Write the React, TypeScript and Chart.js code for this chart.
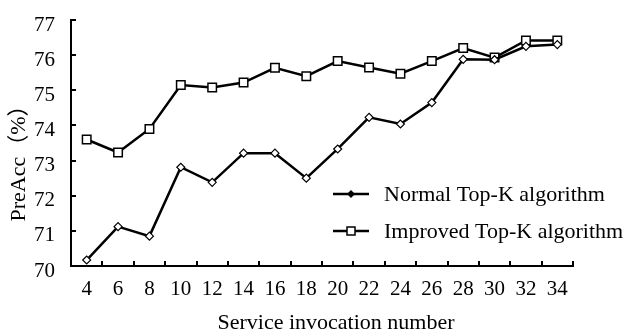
import React, { useEffect, useRef } from "react";
import { Chart, registerables } from "chart.js";

Chart.register(...registerables);

const categories = ["4", "6", "8", "10", "12", "14", "16", "18", "20", "22", "24", "26", "28", "30", "32", "34"];
const normalTopK = [70.17, 71.12, 70.85, 72.81, 72.38, 73.21, 73.21, 72.5, 73.33, 74.23, 74.04, 74.65, 75.88, 75.87, 76.25, 76.3];
const improvedTopK = [73.6, 73.23, 73.9, 75.15, 75.08, 75.22, 75.64, 75.4, 75.83, 75.65, 75.47, 75.83, 76.2, 75.93, 76.42, 76.42];
const seriesNames = ["Normal Top-K algorithm", "Improved Top-K algorithm"];
const xTitle = "Service invocation number";
const yTitle = "PreAcc（%）";
const yMin = 70;
const yMax = 77;

const FONT = '"Liberation Serif", "Times New Roman", "Noto Sans CJK SC", serif';

const inwardTicks = {
  id: "inwardTicks",
  afterDraw(chart: any) {
    const { ctx, chartArea } = chart;
    const xs = chart.scales.x;
    const ys = chart.scales.y;
    ctx.save();
    ctx.strokeStyle = "#000";
    ctx.lineWidth = 2;
    ctx.beginPath();
    for (let i = 0; i <= categories.length; i++) {
      const px = Math.round(xs.getPixelForValue(i - 0.5));
      ctx.moveTo(px, chartArea.bottom);
      ctx.lineTo(px, chartArea.bottom - 5);
    }
    for (let v = yMin; v <= yMax; v++) {
      const py = Math.round(ys.getPixelForValue(v));
      ctx.moveTo(chartArea.left, py);
      ctx.lineTo(chartArea.left + 5, py);
    }
    ctx.stroke();
    ctx.restore();
  },
};

const axisTitles = {
  id: "axisTitles",
  afterDraw(chart: any) {
    const { ctx, chartArea } = chart;
    ctx.save();
    ctx.fillStyle = "#000";
    ctx.font = `22px ${FONT}`;
    ctx.textAlign = "center";
    ctx.textBaseline = "middle";
    ctx.fillText(xTitle, chartArea.left + 265, chartArea.bottom + 57);
    ctx.translate(19, chartArea.top + 138);
    ctx.rotate(-Math.PI / 2);
    ctx.fillText(yTitle, 0, 0);
    ctx.restore();
  },
};

const customLegend = {
  id: "customLegend",
  afterDraw(chart: any) {
    const { ctx, chartArea } = chart;
    const rows = [
      { y: chartArea.top + 174, style: "rectRot" },
      { y: chartArea.top + 211, style: "rect" },
    ];
    ctx.save();
    chart.data.datasets.forEach((ds: any, i: number) => {
      const r = rows[i];
      const x0 = chartArea.left + 262;
      const x1 = chartArea.left + 298;
      const cx = (x0 + x1) / 2;
      ctx.strokeStyle = "#000";
      ctx.lineWidth = 2.5;
      ctx.beginPath();
      ctx.moveTo(x0, r.y);
      ctx.lineTo(x1, r.y);
      ctx.stroke();
      ctx.lineWidth = 1.5;
      if (r.style === "rectRot") {
        ctx.fillStyle = "#000";
        ctx.beginPath();
        ctx.moveTo(cx, r.y - 4);
        ctx.lineTo(cx + 4, r.y);
        ctx.lineTo(cx, r.y + 4);
        ctx.lineTo(cx - 4, r.y);
        ctx.closePath();
        ctx.fill();
      } else {
        ctx.fillStyle = "#fff";
        ctx.fillRect(cx - 4, r.y - 4, 8, 8);
        ctx.strokeRect(cx - 4, r.y - 4, 8, 8);
      }
      ctx.fillStyle = "#000";
      ctx.font = `22px ${FONT}`;
      ctx.textBaseline = "middle";
      ctx.textAlign = "left";
      ctx.fillText(ds.label, chartArea.left + 313, r.y + 1);
    });
    ctx.restore();
  },
};

export default function App() {
  const ref = useRef<HTMLCanvasElement | null>(null);
  useEffect(() => {
    if (!ref.current) return;
    const chart = new Chart(ref.current, {
      type: "line",
      data: {
        labels: categories,
        datasets: [
          {
            label: seriesNames[0],
            data: normalTopK,
            borderColor: "#000",
            borderWidth: 2.5,
            pointStyle: "rectRot",
            pointRadius: 4,
            pointBorderWidth: 1.2,
            pointBorderColor: "#000",
            pointBackgroundColor: "#fff",
            tension: 0,
            fill: false,
          },
          {
            label: seriesNames[1],
            data: improvedTopK,
            borderColor: "#000",
            borderWidth: 2.5,
            pointStyle: "rect",
            pointRadius: 6,
            pointBorderWidth: 1.5,
            pointBorderColor: "#000",
            pointBackgroundColor: "#fff",
            tension: 0,
            fill: false,
          },
        ],
      },
      options: {
        animation: false,
        responsive: true,
        maintainAspectRatio: false,
        layout: { padding: { top: 20, right: 51, left: 0, bottom: 0 } },
        plugins: {
          legend: { display: false },
          tooltip: { enabled: false },
        },
        scales: {
          x: {
            type: "category",
            offset: true,
            grid: { display: false },
            border: { display: true, color: "#000", width: 2 },
            ticks: { color: "#000", font: { family: FONT, size: 21 }, padding: 3, maxRotation: 0, autoSkip: false },
            title: { display: false, text: xTitle },
            afterFit(scale: any) {
              scale.height = 69;
              scale.paddingLeft = 0;
              scale.paddingRight = 0;
            },
          },
          y: {
            min: yMin,
            max: yMax,
            grid: { display: false },
            border: { display: true, color: "#000", width: 2 },
            ticks: { stepSize: 1, color: "#000", font: { family: FONT, size: 21 }, padding: 8, labelOffset: 5 },
            title: { display: false, text: yTitle },
            afterFit(scale: any) {
              scale.width = 71;
              scale.paddingTop = 0;
              scale.paddingBottom = 0;
            },
          },
        },
      },
      plugins: [inwardTicks, axisTitles, customLegend],
    });
    return () => chart.destroy();
  }, []);
  return (
    <div style={{ position: "absolute", left: 0, top: 0, width: 624, height: 335, background: "#fff" }}>
      <canvas ref={ref} />
    </div>
  );
}
